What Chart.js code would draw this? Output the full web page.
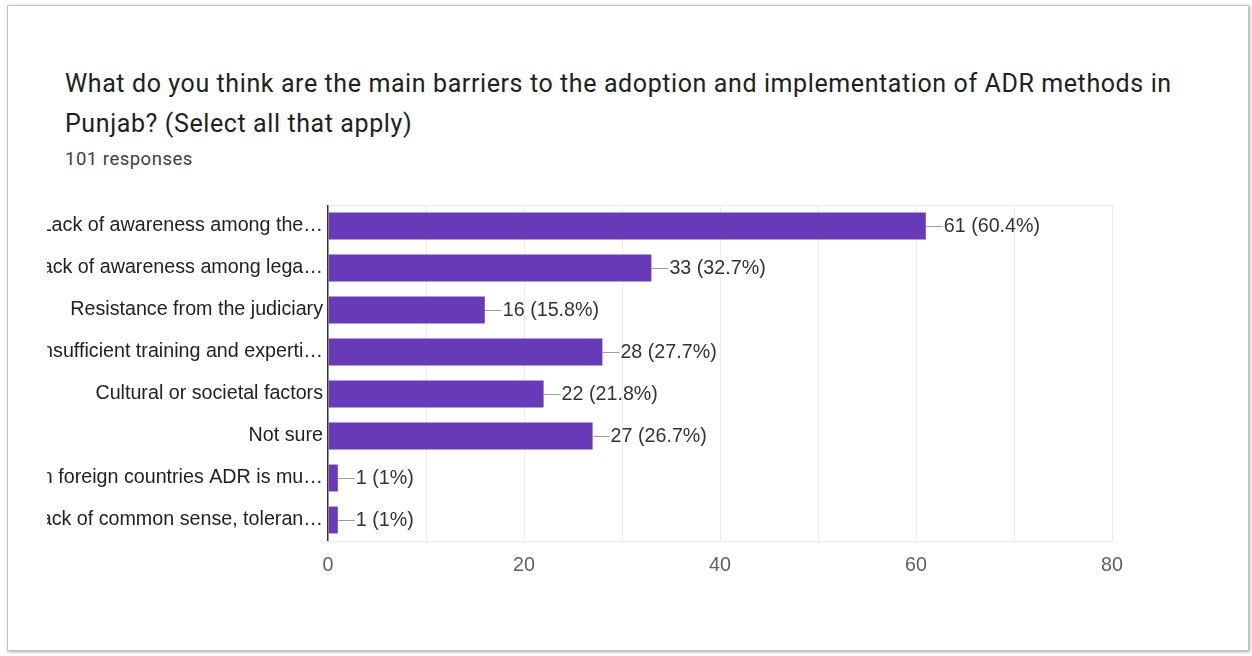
<!DOCTYPE html>
<html lang="en">
<head>
  <meta charset="UTF-8">
  <title>ADR barriers in Punjab</title>
  <script src="https://cdn.jsdelivr.net/npm/chart.js"></script>
  <style>
    body { margin: 0; background: #fff; width: 1252px; height: 656px; overflow: hidden; }
    .card {
      position: absolute; left: 7px; top: 5px; width: 1240px; height: 644px;
      border: 1px solid #c4c4c4; box-shadow: 1px 1px 3px rgba(0,0,0,0.35); background: #fff;
    }
    .title {
      position: absolute; left: 65px; top: 64px; font-family: Roboto, sans-serif;
      font-size: 25px; line-height: 40px; letter-spacing: 0.6px; color: #202124; white-space: nowrap;
    }
    .count {
      position: absolute; left: 65px; top: 147px; font-family: Roboto, sans-serif;
      font-size: 18.5px; line-height: 24px; letter-spacing: 0.5px; color: #3c4043;
    }
    #barChart { position: absolute; left: 47px; top: 190px; }
  </style>
</head>
<body>
  <div class="card"></div>
  <div class="title">What do you think are the main barriers to the adoption and implementation of ADR methods in<br>Punjab? (Select all that apply)</div>
  <div class="count">101 responses</div>
  <canvas id="barChart" width="1100" height="400"></canvas>

  <script>
    const categories = [
      'Lack of awareness among the…',
      'Lack of awareness among lega…',
      'Resistance from the judiciary',
      'Insufficient training and experti…',
      'Cultural or societal factors',
      'Not sure',
      'In foreign countries ADR is mu…',
      'Lack of common sense, toleran…'
    ];
    const counts = [61, 33, 16, 28, 22, 27, 1, 1];
    const totalResponses = 101;
    const axisMax = 80;
    const gridStep = 10;
    const labelStep = 20;

    const chartFont = "'Liberation Sans', Arial, sans-serif";
    const fontSize = 19.7;

    function pctText(v) {
      return v + ' (' + parseFloat((v / totalResponses * 100).toFixed(1)) + '%)';
    }

    // leader line + "n (p%)" next to each bar
    const valueLabels = {
      id: 'valueLabels',
      afterDatasetsDraw(chart) {
        const ctx = chart.ctx;
        const meta = chart.getDatasetMeta(0);
        ctx.save();
        ctx.font = fontSize + 'px ' + chartFont;
        ctx.textBaseline = 'middle';
        ctx.textAlign = 'left';
        meta.data.forEach((bar, i) => {
          const x = bar.x, y = bar.y;
          ctx.strokeStyle = '#9e9e9e';
          ctx.lineWidth = 1;
          ctx.beginPath();
          ctx.moveTo(x, y + 0.5);
          ctx.lineTo(x + 17, y + 0.5);
          ctx.stroke();
          ctx.fillStyle = '#333';
          ctx.fillText(pctText(counts[i]), x + 18, y + 1);
        });
        ctx.restore();
      }
    };

    // light top edge of the plot frame
    const frameTop = {
      id: 'frameTop',
      beforeDatasetsDraw(chart) {
        const a = chart.chartArea, ctx = chart.ctx;
        ctx.save();
        ctx.strokeStyle = '#ebebeb';
        ctx.lineWidth = 1;
        ctx.beginPath();
        ctx.moveTo(a.left + 1, a.top + 0.5);
        ctx.lineTo(a.right, a.top + 0.5);
        ctx.stroke();
        ctx.restore();
      }
    };

    new Chart(document.getElementById('barChart'), {
      type: 'bar',
      data: {
        labels: categories,
        datasets: [{
          data: counts,
          backgroundColor: '#673ab7',
          borderWidth: 0,
          barPercentage: 0.64,
          categoryPercentage: 1
        }]
      },
      options: {
        indexAxis: 'y',
        responsive: false,
        animation: false,
        devicePixelRatio: 1,
        layout: { padding: { top: 15, right: 35, bottom: 0, left: 0 } },
        plugins: { legend: { display: false }, tooltip: { enabled: false } },
        scales: {
          x: {
            min: 0,
            max: axisMax,
            afterFit(scale) { scale.height = 49; },
            ticks: {
              stepSize: gridStep,
              autoSkip: false,
              maxRotation: 0,
              padding: 13,
              color: '#5f5f5f',
              font: { family: chartFont, size: fontSize },
              callback: v => (v % labelStep === 0 ? v : '')
            },
            grid: {
              drawTicks: false,
              color: ctx => (ctx.tick && ctx.tick.value === 0 ? '#333' : '#ebebeb'),
              lineWidth: ctx => (ctx.tick && ctx.tick.value === 0 ? 1.5 : 1)
            },
            border: { color: '#ebebeb' }
          },
          y: {
            afterFit(scale) { scale.width = 281; },
            ticks: {
              padding: 5,
              color: '#222',
              // small lineHeight keeps the label half-height from pushing the plot down
              font: { family: chartFont, size: fontSize, lineHeight: 0.8 }
            },
            grid: { display: false, drawTicks: false },
            border: { display: false }
          }
        }
      },
      plugins: [frameTop, valueLabels]
    });
  </script>
</body>
</html>
